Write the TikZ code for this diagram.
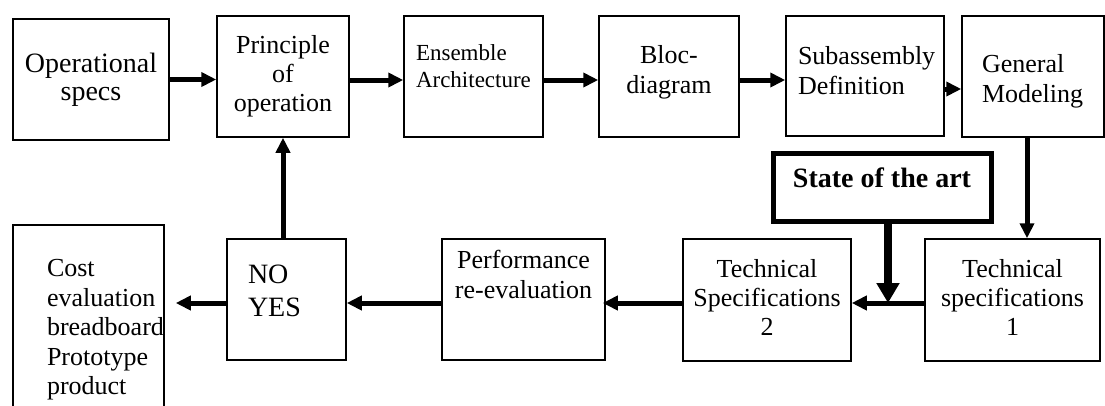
\documentclass[tikz,border=0pt]{standalone}
\usepackage{fontspec}
\setmainfont{Liberation Serif}
\usetikzlibrary{arrows.meta}
\hyphenpenalty=10000
\exhyphenpenalty=10000
\newcommand{\boxfont}{\fontsize{26}{30}\selectfont}

\tikzset{
  box/.style={draw, line width=1.5pt, inner sep=0pt, align=center, font=\boxfont},
  flow/.style={line width=5pt, -{Triangle[length=15pt,width=14pt]}},
  artflow/.style={line width=8pt, -{Triangle[length=20pt,width=22pt]}},
}

\begin{document}
\begin{tikzpicture}[x=1pt, y=-1pt]
\useasboundingbox (0,0) rectangle (1105,405);

\node[box, minimum width=156pt, minimum height=121pt, font={\fontsize{28}{28}\selectfont}] (ops) at (91,79.5) {Operational\\specs};
\node[box, minimum width=132pt, minimum height=121pt, font={\fontsize{26}{29}\selectfont}] (princ) at (283,76.5) {Principle\\of\\operation};
\node[box, minimum width=139pt, minimum height=121pt, text width=115pt, align=left, text depth=47pt, font={\fontsize{23}{27}\selectfont}] (ens) at (473.5,76.5) {Ensemble\\Architecture};
\node[box, minimum width=140pt, minimum height=121pt, text width=100pt, text depth=44pt] (bloc) at (669,76.5) {Bloc-\\diagram};
\node[box, minimum width=158pt, minimum height=120pt, text width=134pt, align=left, text depth=42pt] (subas) at (865,76) {Subassembly\\Definition};
\node[box, minimum width=142pt, minimum height=121pt, text width=102pt, align=left, text height=27.4pt] (gen) at (1033,76.5) {General\\Modeling};

\node[box, line width=5pt, minimum width=218pt, minimum height=68pt, text depth=19pt, font={\fontsize{28}{30}\selectfont\bfseries}] (state) at (882,187) {State of the art};

\node[box, minimum width=175pt, minimum height=122pt, text width=150pt, text depth=64pt, font={\fontsize{26}{29}\selectfont}] (tech1) at (1012.5,300) {Technical\\specifications\\1};
\node[box, minimum width=168pt, minimum height=122pt, text width=150pt, text depth=64pt, font={\fontsize{26}{29}\selectfont}] (tech2) at (767,300) {Technical\\Specifications\\2};
\node[box, minimum width=163pt, minimum height=121pt, text width=150pt, text depth=80pt] (perf) at (523.5,299.5) {Performance\\re-evaluation};
\node[box, minimum width=119pt, minimum height=121pt, text width=77pt, align=left, text depth=51pt, font={\fontsize{28}{33}\selectfont}] (noyes) at (286.5,299.5) {NO\\YES};
\node[box, minimum width=151pt, minimum height=210pt, text width=83pt, align=left, font={\fontsize{26}{29.5}\selectfont}] (cost) at (88.5,330) {Cost\\evaluation\\breadboard\\Prototype\\product};

\coordinate (merge) at (888,303);

\draw[flow] (ops.east) -- (princ.west |- ops.east);
\draw[flow] ([yshift=-3.5pt]princ.east) -- ([yshift=-3.5pt]ens.west);
\draw[flow] ([yshift=-3.5pt]ens.east) -- ([yshift=-3.5pt]bloc.west);
\draw[flow] ([yshift=-3.5pt]bloc.east) -- ([yshift=-4pt]subas.west);
\draw[flow] ([yshift=-13pt]subas.east) -- ([yshift=-12.5pt]gen.west);
\draw[flow] ([xshift=-6pt]gen.south) -- ([xshift=-6pt]gen.south |- tech1.north);
\draw[flow] ([yshift=-3pt]tech1.west) -- ([yshift=-3pt]tech2.east);
\draw[artflow] (state.south -| merge) -- (merge);
\draw[flow, shorten >=-3pt] ([yshift=-3pt]tech2.west) -- ([yshift=-3.5pt]perf.east);
\draw[flow] ([yshift=-3.5pt]perf.west) -- ([yshift=-3.5pt]noyes.east);
\draw[flow, shorten >=11pt] ([yshift=-3.5pt]noyes.west) -- ([yshift=-3.5pt]noyes.west -| cost.east);
\draw[flow] (noyes.north -| princ.south) -- (princ.south);
\end{tikzpicture}
\end{document}
